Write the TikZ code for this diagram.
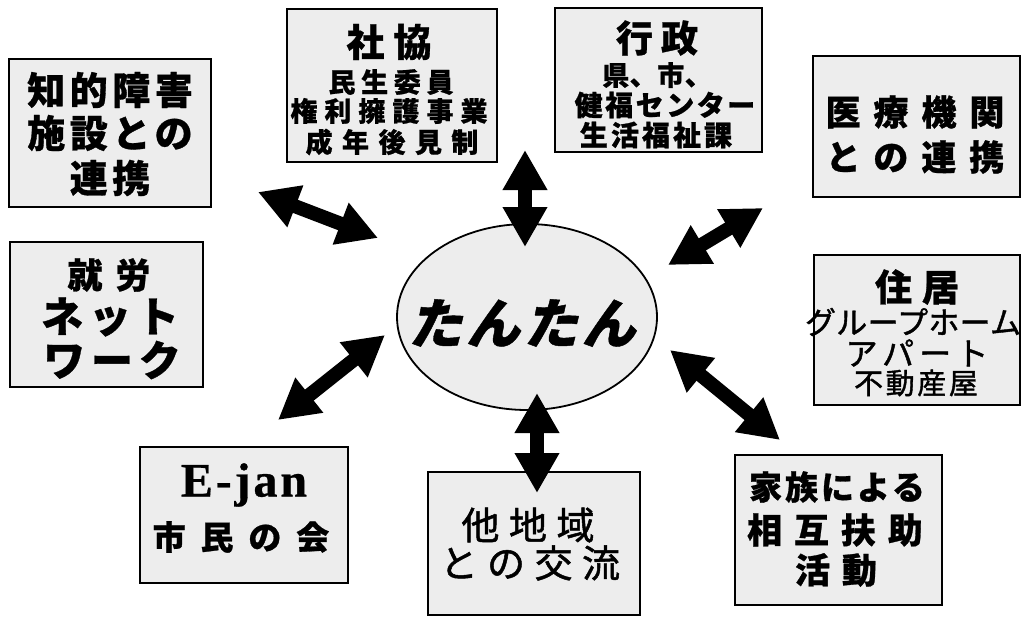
\documentclass[tikz,border=0pt]{standalone}
\usepackage{fontspec}
\usetikzlibrary{arrows.meta,shapes.geometric}
\newfontfamily\jp{Noto Sans CJK JP}[BoldFeatures={FakeBold=0.8}]
\newfontfamily\jpm{Noto Sans CJK JP}[FakeBold=1.3]
\newfontfamily\jpsl{Noto Sans CJK JP}[FakeSlant=0.22,BoldFeatures={FakeBold=0.8}]
\newfontfamily\ejan{Liberation Serif}[BoldFeatures={FakeBold=0.6}]
\newcommand\fsz[2]{\fontsize{#1}{#1}\selectfont\addfontfeatures{LetterSpace=#2}}
\tikzset{
  boxst/.style={draw, line width=1.8pt, fill=gray!14, inner sep=0pt},
  ellst/.style={ellipse, draw, line width=1.8pt, fill=gray!14, inner sep=0pt},
  txt/.style={inner sep=0pt, anchor=center, text=black},
  dbl/.style={line width=14pt, {Triangle[length=40pt,width=42pt]}-{Triangle[length=40pt,width=42pt]}}
}
\begin{document}
\begin{tikzpicture}[x=1pt,y=-1pt]
\useasboundingbox (0,0) rectangle (1030,621);
\fill[white] (0,0) rectangle (1030,621);
% boxes
\node[boxst, minimum width=202pt, minimum height=148pt] (b1) at (110,133) {};
\node[boxst, minimum width=210pt, minimum height=153pt] (b2) at (392,85.5) {};
\node[boxst, minimum width=207pt, minimum height=144pt] (b3) at (658.5,80) {};
\node[boxst, minimum width=207pt, minimum height=141pt] (b4) at (916.5,126.5) {};
\node[boxst, minimum width=193pt, minimum height=145pt] (b5) at (106.5,314.5) {};
\node[boxst, minimum width=206pt, minimum height=150pt] (b6) at (917,330) {};
\node[boxst, minimum width=208pt, minimum height=136pt] (b7) at (244,515) {};
\node[boxst, minimum width=212pt, minimum height=143pt] (b8) at (534,543.5) {};
\node[boxst, minimum width=207pt, minimum height=150pt] (b9) at (838.5,530) {};
\node[ellst, minimum width=260pt, minimum height=186pt] (c) at (527,317) {};
% texts box 1
\node[txt, font=\jp\bfseries\fsz{38}{12}] (t1a) at (110,90) {知的障害};
\node[txt, font=\jp\bfseries\fsz{38}{12}] (t1b) at (110,133) {施設との};
\node[txt, font=\jp\bfseries\fsz{38}{12}] (t1c) at (110,178) {連携};
% box 2
\node[txt, font=\jp\bfseries\fsz{38}{24}] (t2a) at (389,42) {社協};
\node[txt, font=\jp\bfseries\fsz{27}{21}] (t2b) at (391,82) {民生委員};
\node[txt, font=\jp\bfseries\fsz{27}{26}] (t2c) at (389,111) {権利擁護事業};
\node[txt, font=\jp\bfseries\fsz{27}{35}] (t2d) at (392,142) {成年後見制};
% box 3
\node[txt, font=\jp\bfseries\fsz{37}{22}] (t3a) at (657,38) {行政};
\node[txt, font=\jp\bfseries\fsz{27}{2}] (t3b) at (657,75) {県、市、};
\node[txt, font=\jp\bfseries\fsz{28}{9}] (t3c) at (665,105) {健福センター};
\node[txt, font=\jp\bfseries\fsz{28}{11}] (t3d) at (656,135) {生活福祉課};
% box 4
\node[txt, font=\jp\bfseries\fsz{35}{37}] (t4a) at (915,112) {医療機関};
\node[txt, font=\jp\bfseries\fsz{35}{37}] (t4b) at (915,157) {との連携};
% box 5
\node[txt, font=\jp\bfseries\fsz{35}{37}] (t5a) at (109,275) {就労};
\node[txt, font=\jp\bfseries\fsz{42}{14}] (t5b) at (110,317) {ネット};
\node[txt, font=\jp\bfseries\fsz{42}{14}] (t5c) at (112,360) {ワーク};
% box 6
\node[txt, font=\jp\bfseries\fsz{37}{27}] (t6a) at (917,287) {住居};
\node[txt, font=\jpm\fsz{31}{1}] (t6b) at (913,322) {グループホーム};
\node[txt, font=\jpm\fsz{32}{16}] (t6c) at (917,353) {アパート};
\node[txt, font=\jpm\fsz{29}{9}] (t6d) at (916,383) {不動産屋};
% box 7
\node[txt, font=\ejan\bfseries\fsz{48}{6}] (t7a) at (244,485) {E-jan};
\node[txt, font=\jp\bfseries\fsz{33}{45}] (t7b) at (241,537) {市民の会};
% box 8
\node[txt, font=\jpm\fsz{38}{25}] (t8a) at (528,525) {他地域};
\node[txt, font=\jpm\fsz{38}{25}] (t8b) at (530,563) {との交流};
% box 9
\node[txt, font=\jp\bfseries\fsz{33}{9}] (t9a) at (837,487) {家族による};
\node[txt, font=\jp\bfseries\fsz{35}{34}] (t9b) at (835,530) {相互扶助};
\node[txt, font=\jp\bfseries\fsz{35}{34}] (t9c) at (836,570) {活動};
% centre
\node[txt, font=\jpsl\bfseries\fsz{54}{7}] (tc) at (522,323) {たんたん};
% arrow end points
\coordinate (a1s) at (525,150); \coordinate (a1e) at (525,247);
\coordinate (a2s) at (537,393); \coordinate (a2e) at (537,493);
\coordinate (a3s) at (258,192); \coordinate (a3e) at (378,238);
\coordinate (a4s) at (668,265); \coordinate (a4e) at (763,208);
\coordinate (a5s) at (278,420); \coordinate (a5e) at (385,335);
\coordinate (a6s) at (670,350); \coordinate (a6e) at (780,440);
\draw[dbl] (a1s) -- (a1e);
\draw[dbl] (a2s) -- (a2e);
\draw[dbl] (a3s) -- (a3e);
\draw[dbl] (a4s) -- (a4e);
\draw[dbl] (a5s) -- (a5e);
\draw[dbl] (a6s) -- (a6e);
\end{tikzpicture}
\end{document}
